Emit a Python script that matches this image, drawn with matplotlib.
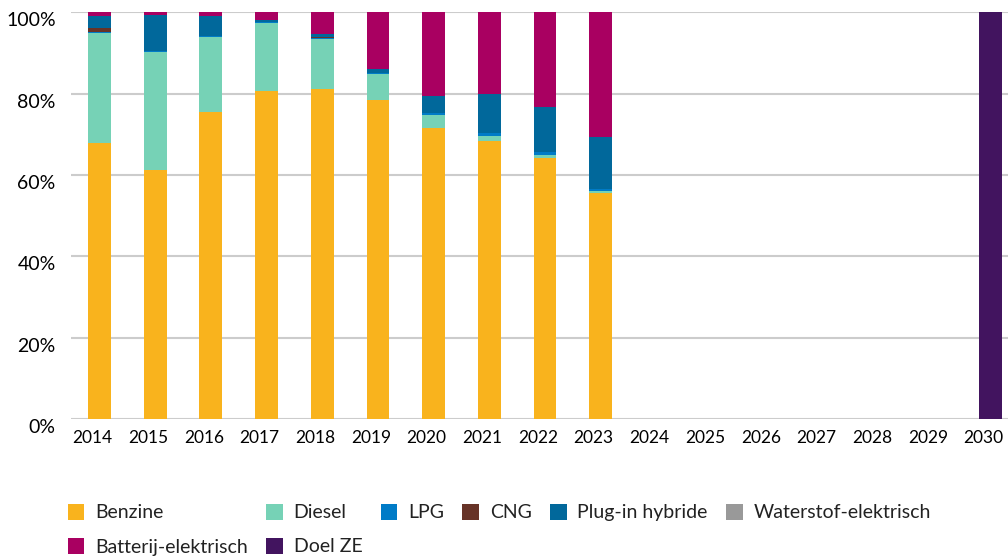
import matplotlib.pyplot as plt
import matplotlib.transforms as mtransforms
import numpy as np

# share of new passenger cars per fuel type (%), 2014-2023, plus 2030 ZE target
years = [str(y) for y in range(2014, 2031)]
benzine = [67.8, 61.2, 75.5, 80.6, 81.1, 78.5, 71.6, 68.3, 64.2, 55.5]
diesel = [27.0, 29.1, 18.4, 16.8, 12.3, 6.3, 3.1, 1.2, 0.7, 0.5]
lpg = [0.4, 0.1, 0.3, 0.3, 0.2, 0.3, 0.5, 0.9, 0.7, 0.5]
cng = [0.9, 0.0, 0.0, 0.0, 0.2, 0.0, 0.0, 0.0, 0.0, 0.0]
phev = [3.0, 9.0, 4.9, 0.5, 0.9, 0.9, 4.3, 9.6, 11.1, 12.8]
waterstof = [0.0, 0.0, 0.0, 0.0, 0.0, 0.0, 0.0, 0.0, 0.0, 0.0]
bev = [0.9, 0.6, 0.9, 1.8, 5.3, 14.0, 20.5, 20.0, 23.3, 30.7]
doel_ze = [100.0]

series = [
    ("Benzine", benzine, "#F9B31D"),
    ("Diesel", diesel, "#76D2B6"),
    ("LPG", lpg, "#007BC7"),
    ("CNG", cng, "#673327"),
    ("Plug-in hybride", phev, "#01689B"),
    ("Waterstof-elektrisch", waterstof, "#999999"),
    ("Batterij-elektrisch", bev, "#A90061"),
]

plt.rcParams["font.family"] = ["Lato", "DejaVu Sans"]

fig = plt.figure(figsize=(10.08, 5.56), dpi=100)
ax = fig.add_axes([0.0704, 0.2464, 0.9296, 0.7316])

x = np.arange(len(years))
n_hist = len(benzine)
width = 0.41
bottom = np.zeros(n_hist)
handles = {}
for name, vals, col in series:
    vals = np.array(vals)
    handles[name] = ax.bar(x[:n_hist], vals, width, bottom=bottom, color=col,
                           label=name, zorder=3)
    bottom += vals
handles["Doel ZE"] = ax.bar(x[-1:], doel_ze, width, color="#42145F",
                            label="Doel ZE", zorder=3)

ax.set_xlim(-0.51, 16.31)
ax.set_ylim(0, 100)
ax.set_yticks(range(0, 101, 20))
ax.set_yticklabels([f"{v}%" for v in range(0, 101, 20)], fontsize=14)
ax.set_xticks(x)
ax.set_xticklabels(years, fontsize=12.5)
ax.tick_params(length=0, pad=8)
ax.tick_params(axis="y", pad=11)
ax.grid(axis="y", color="#CCCCCC", lw=1.5, zorder=0)
for s in ax.spines.values():
    s.set_visible(False)

# year labels sit a little left of the bar centres, % labels a little low
xshift = mtransforms.ScaledTranslation(-7 / 100, 0, fig.dpi_scale_trans)
for lab in ax.get_xticklabels():
    lab.set_transform(lab.get_transform() + xshift)
yshift = mtransforms.ScaledTranslation(0, -7 / 100, fig.dpi_scale_trans)
for lab in ax.get_yticklabels():
    lab.set_transform(lab.get_transform() + yshift)

# column-major ordering so rows read Benzine, Diesel, ... left to right
order = ["Benzine", "Batterij-elektrisch", "Diesel", "Doel ZE", "LPG", "CNG",
         "Plug-in hybride", "Waterstof-elektrisch"]
fig.legend([handles[k] for k in order], order, loc="upper left",
           bbox_to_anchor=(0.050, 0.125), bbox_transform=fig.transFigure,
           ncol=6, frameon=False, fontsize=14, handlelength=0.85,
           handleheight=0.85, handletextpad=0.55, columnspacing=0.95,
           labelspacing=0.85, labelcolor="#222222")

fig.savefig("out.png", dpi=100)
